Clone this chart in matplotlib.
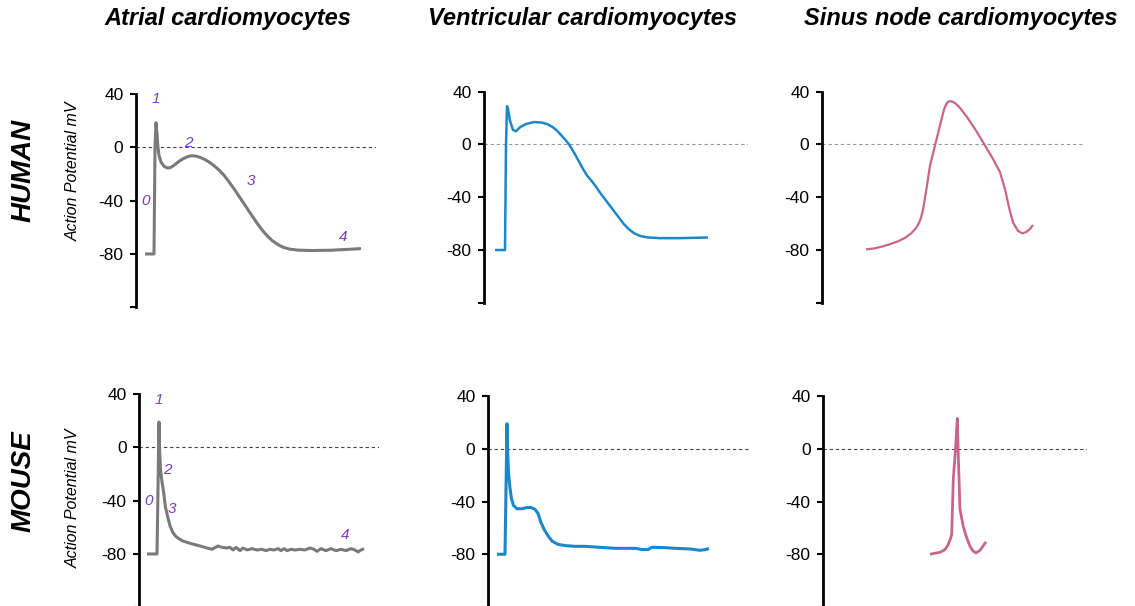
import numpy as np
import matplotlib
matplotlib.use("Agg")
import matplotlib.pyplot as plt

plt.rcParams['font.family'] = ['Liberation Sans', 'DejaVu Sans']

W, H = 1135, 606

# column titles / row labels
col_titles = ['Atrial cardiomyocytes', 'Ventricular cardiomyocytes', 'Sinus node cardiomyocytes']
row_labels = ['HUMAN', 'MOUSE']
ylabel_txt = 'Action Potential mV'
tick_vals = [-120, -80, -40, 0, 40]
tick_txt = ['', '-80', '-40', '0', '40']

# traces: time (arbitrary units) and membrane potential (mV)
human_atrial_t = [9, 18, 18.5, 19, 20, 21, 22, 23, 25, 28, 31, 34, 37, 40, 44, 48, 52, 56, 60, 64,
                  68, 72, 76, 80, 84, 88, 92, 96, 100, 104, 108, 112, 116, 120, 124, 128, 132, 136,
                  140, 144, 148, 154, 162, 175, 195, 225]
human_atrial_v = [-80, -80, -40, 0, 18.5, 10, 0, -6, -11, -14.2, -15.4, -15.3, -14, -12.3, -10,
                  -8.2, -6.9, -6.3, -6.6, -7.5, -8.8, -10.5, -12.6, -15, -17.8, -21, -24.8, -29,
                  -33.3, -37.8, -42.3, -46.8, -51.3, -55.7, -59.9, -63.7, -67, -69.8, -72, -73.8,
                  -75.2, -76.4, -77.1, -77.4, -77.2, -76]

human_vent_t = [11, 21, 21.5, 22, 23, 24, 26, 29, 32, 36, 42, 50, 58, 64, 69, 73, 76, 79, 82, 85,
                88, 91, 95, 99, 103, 108, 112, 116, 121, 126, 131, 136, 140, 145, 150, 156, 163,
                176, 196, 224]
human_vent_v = [-80, -80, -40, 0, 29, 27, 18, 11, 10, 13, 15.5, 17, 16.6, 15.2, 13, 10.5, 8, 5.5,
                3, 0, -3.5, -7.5, -13, -18.5, -23.5, -28, -32, -36.5, -41.5, -46.5, -51.5, -56.5,
                -60.5, -64.3, -67.2, -69.3, -70.4, -71, -71, -70.5]

human_sinus_t = [44, 52, 60, 68, 76, 83, 89, 94, 97, 99, 101, 105, 108, 113, 118, 122, 124.5, 127,
                 130, 133, 137, 145, 155, 163, 171, 178, 183, 187, 191, 196, 200, 204, 208, 211]
human_sinus_v = [-79.5, -78.8, -77.4, -75.6, -73.4, -70.8, -67.5, -63.5, -59.5, -55.5, -49.5,
                 -31.2, -16, -0.8, 14.5, 26.5, 31, 32.8, 32.6, 31.4, 28.6, 20.8, 9.4, -0.8, -10.9,
                 -21, -33.8, -47.7, -59.2, -65.5, -67.3, -66.5, -64, -61]

mouse_atrial_t = [8, 18, 20, 20.5, 21.5, 23, 24.5, 26.5, 29, 31, 34, 37, 43, 51, 61, 68, 73, 79, 83,
                  87, 91, 94, 97, 101, 104, 108, 113, 118, 123, 127, 131, 135, 139, 142, 145, 148,
                  152, 156, 161, 166, 171, 175, 178, 182, 187, 192, 197, 202, 207, 212, 216, 219,
                  222, 225]
mouse_atrial_v = [-80, -80, 19, 0, -17, -26, -33, -45, -53, -59, -64, -67, -70, -72, -74, -75.5,
                  -76.5, -74, -75, -75.5, -75, -77, -75, -77.5, -75.5, -77, -76, -77, -76.5, -77.5,
                  -76.5, -77, -76, -77.5, -76, -77.5, -76.5, -77, -76.5, -77, -75.5, -76.5, -78,
                  -76, -77.5, -76, -77.5, -76.5, -77.5, -76, -77, -78.5, -77, -76]

mouse_vent_t = [9, 17, 19, 19.5, 20.5, 22, 23.5, 25.5, 29, 34, 39, 43, 47, 50, 53, 56, 60, 64, 70,
                78, 87, 97, 107, 117, 127, 137, 147, 154, 160, 164, 169, 177, 187, 202, 212, 217, 221]
mouse_vent_v = [-80, -80, 19, 0, -18, -30, -38, -43, -45.5, -45.5, -44.5, -44.5, -46, -49, -56, -61,
                -66, -70, -72.5, -73.5, -74, -74, -74.5, -75, -75.5, -75.5, -75.5, -76.4, -76.5,
                -74.7, -74.8, -75, -75.5, -76, -77, -76.5, -75.7]

mouse_sinus_t = [107, 117, 122, 125.3, 128, 128.7, 130.3, 132.7, 134.3, 135.3, 137, 140.3, 143, 147,
                 150, 153, 157, 163]
mouse_sinus_v = [-80, -78.5, -76.5, -72.6, -67, -65, -23, 2, 23, -5.6, -46, -59, -66, -74, -77.5,
                 -79, -77, -70.6]

phase_names = ['0', '1', '2', '3', '4']

gray = '#7a7a7a'
blue = '#1b87c9'
pink = '#c9648b'
purple = '#7a3db8'

# panels: (trace t, trace v, color, lw, [left, right, top, bottom] in px, xmax, dash colour)
panels = [
    (human_atrial_t, human_atrial_v, gray, 2.2, (136, 376, 94, 307.3), 240, '#444444'),
    (human_vent_t, human_vent_v, blue, 1.8, (484, 748, 91.7, 302.8), 264, '#999999'),
    (human_sinus_t, human_sinus_v, pink, 1.6, (822, 1083, 91.7, 302.8), 261, '#999999'),
    (mouse_atrial_t, mouse_atrial_v, gray, 2.2, (139, 379, 394, 607.3), 240, '#444444'),
    (mouse_vent_t, mouse_vent_v, blue, 2.2, (488, 750, 396, 607), 262, '#444444'),
    (mouse_sinus_t, mouse_sinus_v, pink, 2.0, (823, 1087, 396, 607), 264, '#444444'),
]

fig = plt.figure(figsize=(W / 100, H / 100), dpi=100)
axes = []
for t, v, c, lw, (l, r, top, bot), xmax, dc in panels:
    ax = fig.add_axes([l / W, 1 - bot / H, (r - l) / W, (bot - top) / H])
    ax.axhline(0, color=dc, lw=0.8, ls=(0, (3, 2.5)), zorder=1)
    ax.plot(t, v, color=c, lw=lw, solid_capstyle='butt', solid_joinstyle='round', zorder=2)
    ax.set_xlim(0, xmax)
    ax.set_ylim(-120, 40)
    for s in ['top', 'right', 'bottom']:
        ax.spines[s].set_visible(False)
    ax.spines['left'].set_linewidth(2.0)
    ax.spines['left'].set_color('black')
    ax.set_xticks([])
    ax.set_yticks(tick_vals)
    ax.set_yticklabels(tick_txt)
    ax.tick_params(axis='y', length=4, width=1.5, pad=5, labelsize=12.5, colors='black')
    ax.patch.set_alpha(0)
    for sp in ax.spines.values():
        sp.set_clip_on(False)
    axes.append(ax)

# phase numbers on atrial panels
human_phase_pos = [(10, -40), (20, 36), (52, 3), (115, -25.5), (207, -67)]
mouse_phase_pos = [(10, -40), (20, 35.5), (28, -17), (33, -46), (206, -66)]
for ax, pos in [(axes[0], human_phase_pos), (axes[3], mouse_phase_pos)]:
    for name, (x, y) in zip(phase_names, pos):
        ax.text(x, y, name, color=purple, fontsize=11, style='italic',
                ha='center', va='center')

def ftext(x, y, s, **kw):
    fig.text(x / W, 1 - y / H, s, **kw)

for cx, title in zip([228, 582, 961], col_titles):
    ftext(cx, 25, title, fontsize=17, fontweight='bold', style='italic',
          ha='center', va='baseline')

for cy, lab in zip([170, 481], row_labels):
    ftext(24, cy, lab, fontsize=20, fontweight='bold', style='italic',
          rotation=90, ha='center', va='center')

for cy in [171, 498]:
    ftext(73, cy, ylabel_txt, fontsize=11.5, style='italic',
          rotation=90, ha='center', va='center')

fig.savefig('out.png', dpi=100)
